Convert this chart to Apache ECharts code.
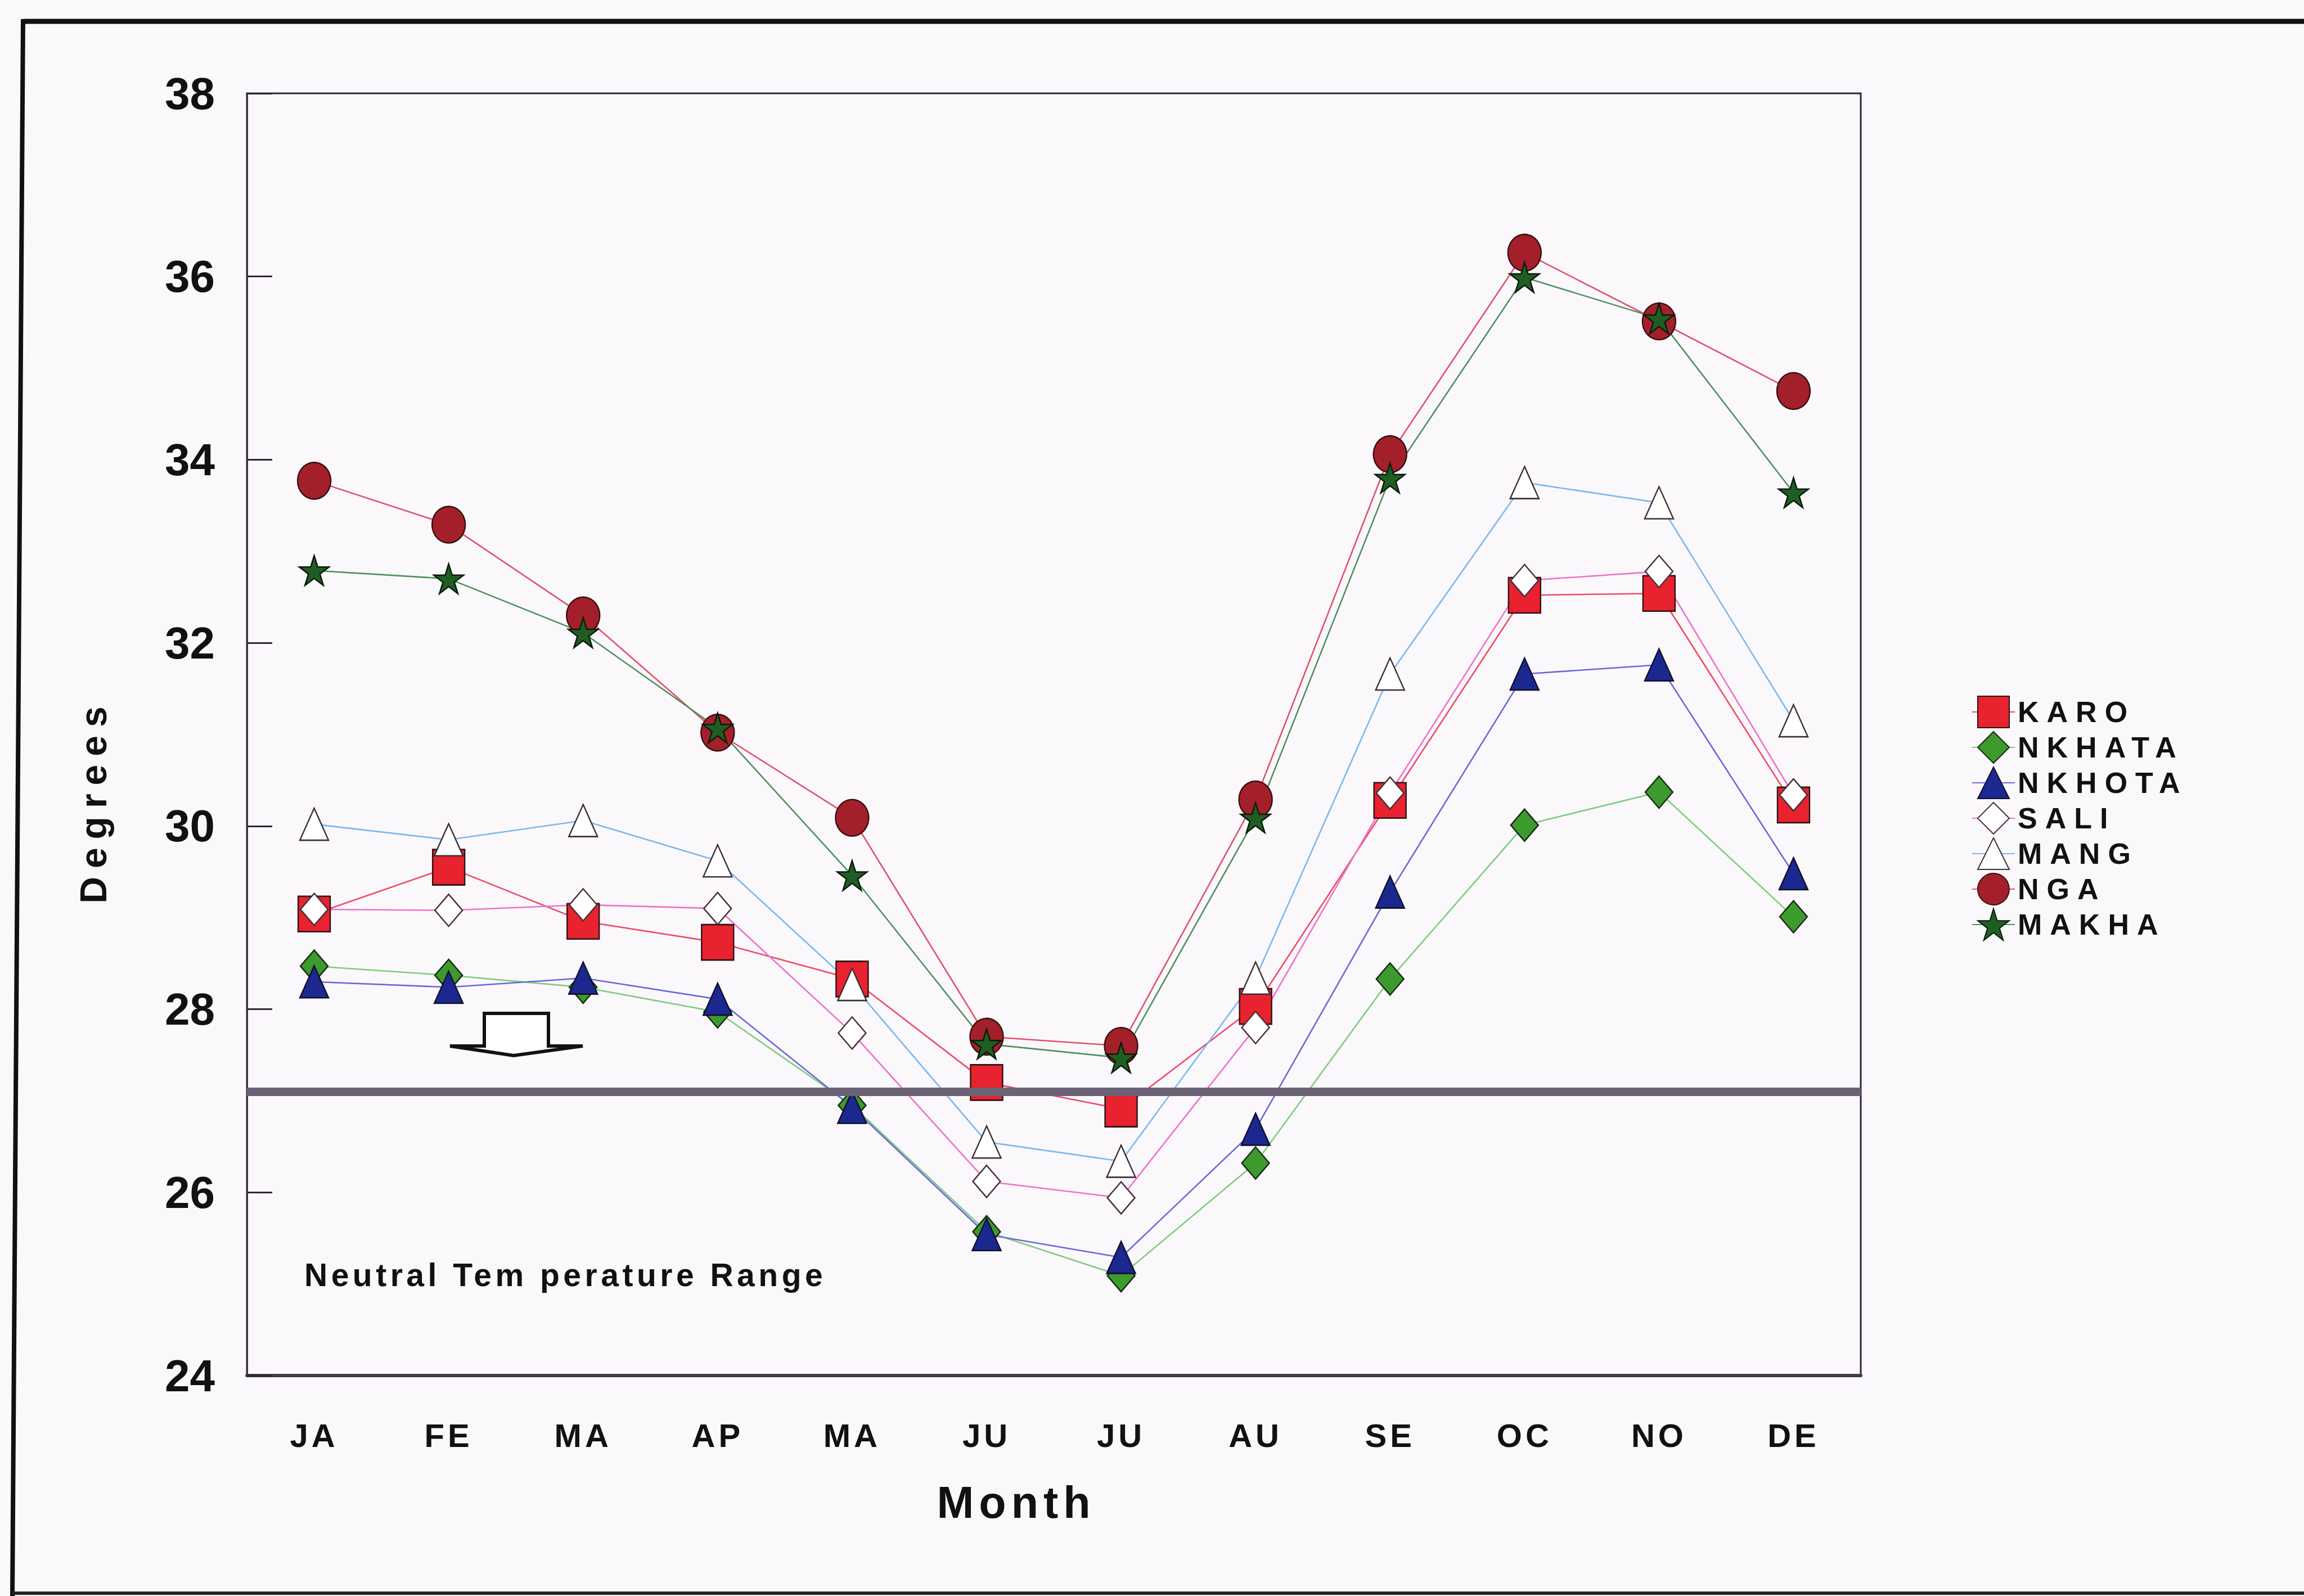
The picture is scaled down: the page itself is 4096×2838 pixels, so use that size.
<!DOCTYPE html>
<html><head><meta charset="utf-8">
<script src="https://cdn.jsdelivr.net/npm/echarts@6/dist/echarts.min.js"></script>
<style>
html,body{margin:0;padding:0;background:#fbf8fc;}
#chart{width:4096px;height:2838px;}
#chart text[style*="58px"]{letter-spacing:6px;}
#chart text[style*="52px"]{letter-spacing:14px;}
#chart text[style*="57px"]{letter-spacing:6.5px;}
#chart text[style*="66px"]{letter-spacing:15px;}
#chart text[style*="79px"]{letter-spacing:9px;}
</style></head><body><div id="chart"></div>
<script>
const months = ['JA','FE','MA','AP','MA','JU','JU','AU','SE','OC','NO','DE'];
const yTicks = [24, 26, 28, 30, 32, 34, 36, 38];
const karo   = [29.04, 29.55, 28.96, 28.73, 28.33, 27.20, 26.91, 28.03, 30.28, 32.52, 32.54, 30.23];
const nkhata = [28.47, 28.37, 28.24, 27.97, 26.95, 25.57, 25.09, 26.32, 28.33, 30.01, 30.37, 29.01];
const nkhota = [28.30, 28.24, 28.34, 28.11, 26.93, 25.54, 25.29, 26.69, 29.28, 31.66, 31.76, 29.48];
const sali   = [29.09, 29.08, 29.14, 29.10, 27.74, 26.12, 25.94, 27.80, 30.36, 32.68, 32.78, 30.34];
const mang   = [30.02, 29.85, 30.06, 29.62, 28.27, 26.55, 26.34, 28.34, 31.66, 33.75, 33.53, 31.15];
const nga    = [33.77, 33.29, 32.30, 31.02, 30.09, 27.70, 27.60, 30.29, 34.06, 36.26, 35.51, 34.75];
const makha  = [32.79, 32.70, 32.11, 31.07, 29.46, 27.62, 27.47, 30.09, 33.80, 35.99, 35.54, 33.64];
const neutralTemp = 27.1;
const seriesNames = ['KARO','NKHATA','NKHOTA','SALI','MANG','NGA','MAKHA'];

const FF = 'Liberation Sans, Arial, sans-serif';
const STAR = 'path://M50,0 L61.2,34.5 L97.6,34.5 L68.2,55.9 L79.4,90.5 L50,69.1 L20.6,90.5 L31.8,55.9 L2.4,34.5 L38.8,34.5 Z';

function mk(name, data, symbol, size, fill, border, line) {
  return {
    name: name, type: 'line', data: data, symbol: symbol, symbolSize: size,
    showSymbol: true, showAllSymbol: true, animation: false,
    itemStyle: {color: fill, borderColor: border, borderWidth: 2.5},
    lineStyle: {color: line, width: 2.6},
    emphasis: {disabled: true}
  };
}

const series = [
  mk('KARO', karo, 'rect', [57, 63], '#e8222e', '#2a1414', '#ee4a64'),
  mk('NKHATA', nkhata, 'diamond', [49, 57], '#3c9a2e', '#1a2a14', '#7ccc7c'),
  mk('NKHOTA', nkhota, 'triangle', [51, 57], '#1c2890', '#10102a', '#6868d8'),
  mk('SALI', sali, 'diamond', [49, 57], '#ffffff', '#4a3038', '#f070c8'),
  mk('MANG', mang, 'triangle', [51, 57], '#ffffff', '#3a3034', '#78b8f0'),
  mk('NGA', nga, 'circle', [59, 65], '#a3202a', '#3a1012', '#e0506a'),
  mk('MAKHA', makha, STAR, [53, 53], '#1f5e22', '#0c1a0c', '#4e9060')
];
series[0].markLine = {
  silent: true, symbol: ['none', 'none'], z: 10, animation: false,
  label: {show: false},
  lineStyle: {color: '#6c6276', width: 15, type: 'solid'},
  data: [{yAxis: neutralTemp}]
};

const chart = echarts.init(document.getElementById('chart'), null, {renderer: 'svg'});
chart.setOption({
  backgroundColor: '#fbf8fc',
  animation: false,
  grid: {left: 439, right: 788, top: 166, bottom: 392, show: true, borderColor: '#2d2830', borderWidth: 3, backgroundColor: 'transparent'},
  legend: {
    orient: 'vertical', left: 3500, top: 1232, itemWidth: 76, itemHeight: 70, itemGap: 5,
    selectedMode: false, data: seriesNames,
    textStyle: {fontSize: 52, fontWeight: 'bold', color: '#111', fontFamily: FF}
  },
  xAxis: {
    type: 'category', data: months,
    name: 'Month', nameLocation: 'middle', nameGap: 186,
    nameTextStyle: {fontSize: 79, fontWeight: 'bold', color: '#111', fontFamily: FF, padding: [0, 134, 0, 0]},
    axisLine: {lineStyle: {color: '#433b47', width: 6}},
    axisTick: {alignWithLabel: true, inside: true, length: 52, lineStyle: {color: '#2d2830', width: 3}},
    axisLabel: {fontSize: 58, fontWeight: 'bold', color: '#111', fontFamily: FF, margin: 77},
    splitLine: {show: false}
  },
  yAxis: {
    type: 'value', min: yTicks[0], max: yTicks[yTicks.length - 1], interval: 2,
    name: 'Degrees', nameLocation: 'middle', nameGap: 240, nameRotate: 90,
    nameTextStyle: {fontSize: 66, fontWeight: 'bold', color: '#111', fontFamily: FF, padding: [0, 236, 0, 0]},
    axisLine: {show: true, lineStyle: {color: '#3a3040', width: 3}},
    axisTick: {show: true, inside: true, length: 45, lineStyle: {color: '#2d2830', width: 3}},
    axisLabel: {fontSize: 80, fontWeight: 'bold', color: '#111', fontFamily: FF, margin: 57, padding: [0, 0, 22, 0]},
    splitLine: {show: false}
  },
  series: series,
  graphic: [
    {type: 'line', silent: true, shape: {x1: 41, y1: 38, x2: 4096, y2: 38}, style: {stroke: '#111', lineWidth: 9}},
    {type: 'line', silent: true, shape: {x1: 41, y1: 34, x2: 22, y2: 2838}, style: {stroke: '#111', lineWidth: 8}},
    {type: 'line', silent: true, shape: {x1: 22, y1: 2833, x2: 4096, y2: 2833}, style: {stroke: '#222', lineWidth: 6}},
    {type: 'polygon', silent: true, shape: {points: [[861,1802],[975,1802],[975,1860],[1036,1860],[913,1877],[800,1860],[861,1860]]},
      style: {fill: '#ffffff', stroke: '#111', lineWidth: 6}},
    {type: 'text', silent: true, x: 541, y: 2267,
      style: {text: 'Neutral Tem perature Range', font: 'bold 57px ' + FF, fill: '#111', verticalAlign: 'middle', align: 'left'}}
  ]
});
</script>
</body></html>
